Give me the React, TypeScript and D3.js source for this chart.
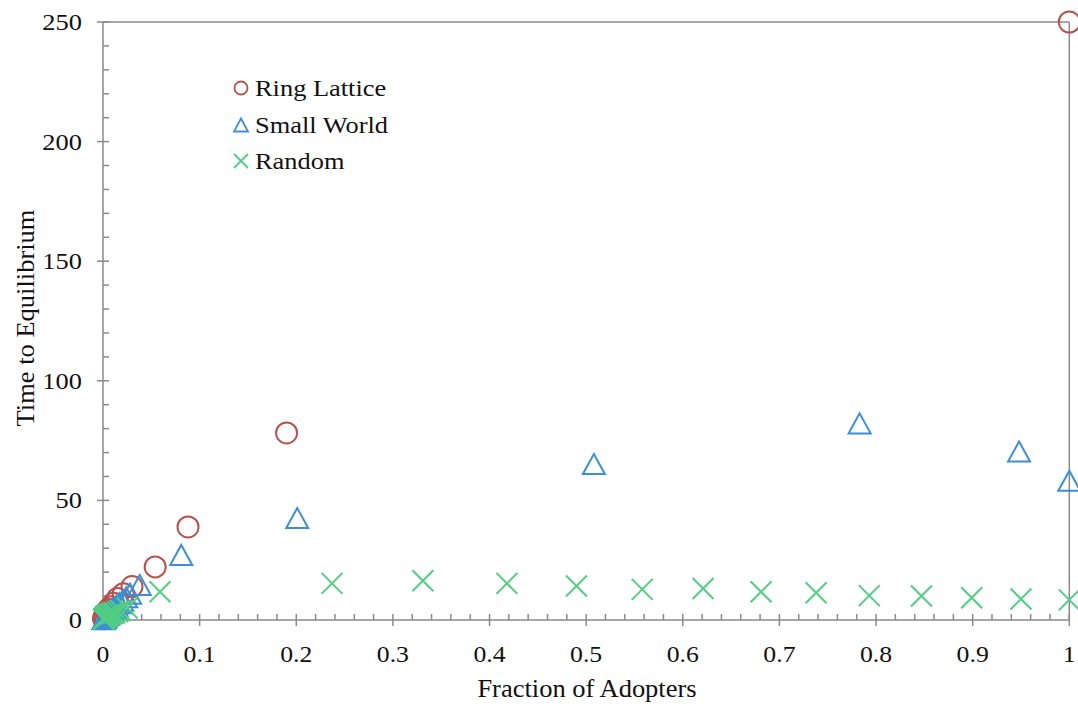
import React from "react";
import * as d3 from "d3";

const ringX = [0.0005, 0.001, 0.0015, 0.002, 0.003, 0.004, 0.005, 0.006, 0.008, 0.011, 0.015, 0.021, 0.03, 0.054, 0.088, 0.19, 1];
const ringY = [0.5, 1, 1.5, 2, 3, 3.5, 4, 4.5, 5.5, 7, 9, 11, 14, 22.2, 38.9, 78.2, 250];

const smallX = [0.0005, 0.001, 0.0015, 0.002, 0.003, 0.004, 0.005, 0.006, 0.007, 0.008, 0.01, 0.012, 0.014, 0.017, 0.02, 0.024, 0.028, 0.038, 0.081, 0.201, 0.508, 0.783, 0.948, 1];
const smallY = [0.3, 0.5, 0.8, 1, 1.5, 2, 2.2, 2.5, 3, 3.5, 4.5, 5, 6, 7, 8, 9.5, 11, 14.6, 27.2, 42.6, 65.2, 82.2, 70.4, 58.2];

const randomX = [0.0005, 0.001, 0.0015, 0.002, 0.003, 0.004, 0.005, 0.007, 0.008, 0.01, 0.012, 0.015, 0.018, 0.025, 0.059, 0.237, 0.331, 0.418, 0.49, 0.558, 0.621, 0.681, 0.738, 0.793, 0.847, 0.899, 0.95, 1];
const randomY = [0.3, 0.5, 0.8, 1, 1.5, 1.8, 2, 2.3, 2.5, 2.8, 3, 3.5, 4, 5, 11.8, 15.3, 16.4, 15.3, 14.2, 12.8, 13.2, 11.8, 11.4, 10.2, 10.0, 9.3, 8.8, 8.4];

const xTicks = [0, 0.1, 0.2, 0.3, 0.4, 0.5, 0.6, 0.7, 0.8, 0.9, 1];
const xTickLabels = ["0", "0.1", "0.2", "0.3", "0.4", "0.5", "0.6", "0.7", "0.8", "0.9", "1"];
const yTicks = [0, 50, 100, 150, 200, 250];
const yTickLabels = ["0", "50", "100", "150", "200", "250"];
const seriesNames = ["Ring Lattice", "Small World", "Random"];

const RED = "#b5544f";
const BLUE = "#3d8fd4";
const GREEN = "#52cd84";
const AXIS = "#8a8a8a";
const FONT = "'Liberation Serif', 'Times New Roman', serif";

export default function App() {
  const W = 1078, H = 704;
  const x = d3.scaleLinear().domain([0, 1]).range([103, 1069.3]);
  const y = d3.scaleLinear().domain([0, 250]).range([620, 22]);
  const xMinor = d3.range(0, 1.0001, 0.02);
  const yMinor = d3.range(0, 250.001, 10);

  const tri = (cx: number, cy: number, w: number, h: number) =>
    `M${cx},${cy - h / 2}L${cx + w / 2},${cy + h / 2}L${cx - w / 2},${cy + h / 2}Z`;
  const cross = (cx: number, cy: number, s: number) =>
    `M${cx - s},${cy - s}L${cx + s},${cy + s}M${cx - s},${cy + s}L${cx + s},${cy - s}`;

  const [x0, x1] = x.range();
  const [y0, y1] = y.range();

  const legendRows = [
    { name: seriesNames[0], cy: 88 },
    { name: seriesNames[1], cy: 125 },
    { name: seriesNames[2], cy: 161 },
  ];

  return (
    <svg width={W} height={H} style={{ position: "absolute", left: 0, top: 0, background: "#fff" }}>
      {/* frame */}
      <g stroke={AXIS} strokeWidth={1.5} fill="none">
        <line x1={x0} x2={x1} y1={y1} y2={y1} />
        <line x1={x1} x2={x1} y1={y1} y2={y0} />
        <line x1={x0} x2={x0} y1={y1} y2={y0} />
        <line x1={x0} x2={x1} y1={y0} y2={y0} />
        {yMinor.map((v, i) => (
          <line key={"ym" + i} x1={x0} x2={x0 + 6} y1={y(v)} y2={y(v)} />
        ))}
        {yTicks.map((v, i) => (
          <line key={"yM" + i} x1={x0 - 6} x2={x0} y1={y(v)} y2={y(v)} />
        ))}
        {xMinor.map((v, i) => (
          <line key={"xm" + i} x1={x(v)} x2={x(v)} y1={y0} y2={y0 - 6} />
        ))}
        {xTicks.map((v, i) => (
          <line key={"xM" + i} x1={x(v)} x2={x(v)} y1={y0} y2={y0 + 6} />
        ))}
      </g>

      {/* tick labels */}
      <g fontFamily={FONT} fontSize={23} fill="#111">
        {yTicks.map((v, i) => (
          <text key={"yl" + i} transform={`translate(82,${y(v) + 8}) scale(1.15,1)`} textAnchor="end">
            {yTickLabels[i]}
          </text>
        ))}
        {xTicks.map((v, i) => (
          <text key={"xl" + i} transform={`translate(${x(v)},${662}) scale(1.12,1)`} textAnchor="middle">
            {xTickLabels[i]}
          </text>
        ))}
      </g>

      {/* axis titles */}
      <text transform={`translate(587,697) scale(1.06,1)`} textAnchor="middle" fontFamily={FONT} fontSize={25} fill="#111">
        Fraction of Adopters
      </text>
      <text transform={`translate(34,318) rotate(-90) scale(1.06,1)`} textAnchor="middle" fontFamily={FONT} fontSize={25} fill="#111">
        Time to Equilibrium
      </text>

      {/* series */}
      <g fill="none" strokeWidth={2}>
        {ringX.map((v, i) => (
          <circle key={"r" + i} cx={x(v)} cy={y(ringY[i])} r={10.5} stroke={RED} />
        ))}
        {smallX.map((v, i) => (
          <path key={"s" + i} d={tri(x(v), y(smallY[i]), 22, 20)} stroke={BLUE} strokeLinejoin="miter" />
        ))}
        {randomX.map((v, i) => (
          <path key={"g" + i} d={cross(x(v), y(randomY[i]), 10.5)} stroke={GREEN} />
        ))}
      </g>

      {/* legend */}
      <g fontFamily={FONT} fontSize={24} fill="#111">
        <circle cx={241} cy={legendRows[0].cy} r={6.5} fill="none" stroke={RED} strokeWidth={1.8} />
        <path d={tri(241, legendRows[1].cy, 14, 13)} fill="none" stroke={BLUE} strokeWidth={1.8} />
        <path d={cross(241, legendRows[2].cy, 7)} fill="none" stroke={GREEN} strokeWidth={1.8} />
        {legendRows.map((r, i) => (
          <text key={"lg" + i} transform={`translate(255,${r.cy + 8}) scale(1.1,1)`}>
            {r.name}
          </text>
        ))}
      </g>
    </svg>
  );
}
